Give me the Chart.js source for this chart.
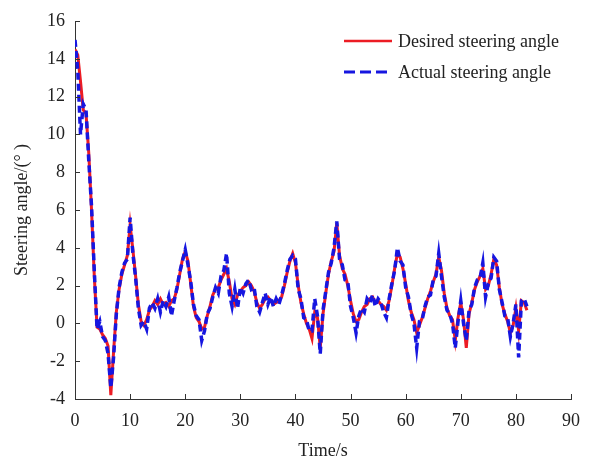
<!DOCTYPE html>
<html>
<head>
<meta charset="utf-8">
<script src="https://cdn.jsdelivr.net/npm/chart.js@4.4.1/dist/chart.umd.min.js"></script>
<style>
  html, body { margin: 0; padding: 0; background: #fff; }
</style>
</head>
<body>
<canvas id="chart" width="591" height="460"></canvas>
<script>
// samples every 0.5 s, 0 .. 82 s
const sampleStep = 0.5;

const desiredAngle = [
  14.5, 14.2, 12.8, 11.3, 11.1, 9.0, 6.0, 2.5, -0.2, -0.3,
  -0.6, -0.8, -1.2, -3.8, -1.5, 0.6, 1.8, 2.6, 3.1, 3.6,
  5.2, 3.9, 2.5, 1.0, 0.1, -0.1, 0.2, 0.7, 0.9, 1.2,
  1.0, 1.3, 1.0, 1.1, 0.9, 1.2, 1.3, 1.8, 2.6, 3.4,
  3.8, 3.3, 2.1, 0.9, 0.3, 0.1, -0.3, -0.2, 0.4, 0.9,
  1.5, 1.8, 1.9, 2.3, 2.6, 2.9, 2.2, 1.3, 1.0, 1.5,
  1.7, 1.9, 2.0, 2.2, 2.0, 1.7, 1.1, 0.8, 1.0, 1.3,
  1.4, 1.2, 1.0, 1.1, 1.2, 1.4, 2.0, 2.7, 3.3, 3.7,
  3.2, 2.0, 1.1, 0.5, 0.0, -0.3, -0.8, 0.6, 0.3, -1.3,
  0.5, 1.6, 2.6, 3.3, 3.8, 5.3, 3.6, 2.9, 2.6, 2.0,
  1.2, 0.5, 0.1, 0.2, 0.6, 0.9, 1.0, 1.3, 1.4, 1.1,
  1.2, 1.0, 0.9, 0.7, 1.2, 2.0, 2.9, 3.7, 3.5, 2.9,
  2.1, 1.2, 0.6, 0.2, -0.5, -0.1, 0.3, 0.8, 1.3, 1.7,
  2.2, 2.6, 3.5, 2.8, 1.6, 0.8, 0.4, 0.2, -0.9, 0.3,
  1.1, 0.2, -1.3, 0.5, 1.1, 1.8, 2.2, 2.5, 2.9, 1.8,
  2.0, 2.6, 3.4, 3.1, 1.9, 1.0, 0.5, 0.1, -0.5, -0.1,
  0.8, -0.4, 1.2, 1.1, 0.7
];

const actualAngle = [
  15.0, 13.4, 10.0, 11.6, 11.3, 8.6, 6.2, 2.8, -0.3, 0.1,
  -0.7, -0.9, -1.6, -3.4, -1.8, 0.5, 1.9, 2.7, 3.2, 3.4,
  5.6, 3.7, 2.4, 0.8, -0.1, 0.1, -0.3, 0.8, 1.1, 0.8,
  1.3, 0.6, 1.2, 0.9, 1.4, 0.4, 1.2, 1.9, 2.7, 3.3,
  3.9, 3.1, 2.2, 1.0, 0.4, 0.2, -0.9, -0.4, 0.5, 0.8,
  1.4, 1.9, 1.6, 2.5, 2.8, 3.7, 1.6, 0.9, 1.8, 0.8,
  1.9, 1.6, 2.1, 2.3, 1.8, 1.9, 0.9, 0.6, 1.1, 1.6,
  1.0, 1.4, 0.9, 1.3, 1.0, 1.5, 2.1, 2.8, 3.4, 3.6,
  3.4, 1.8, 1.3, 0.3, 0.2, -0.4, -0.4, 1.3, 0.4, -1.6,
  0.7, 1.7, 2.7, 3.2, 4.0, 5.4, 3.4, 3.1, 2.3, 2.2,
  0.9, 0.3, -0.5, 0.4, 0.8, 0.6, 1.3, 1.1, 1.5, 0.9,
  1.3, 1.1, 0.6, 0.3, 1.3, 2.1, 2.8, 4.0, 3.3, 3.1,
  1.9, 1.4, 0.5, 0.0, -1.3, 0.1, 0.2, 0.9, 1.4, 1.5,
  2.3, 2.5, 3.7, 2.5, 1.4, 0.7, 0.5, 0.0, -1.3, 0.1,
  1.2, 0.0, -0.9, 0.7, 1.0, 1.9, 2.3, 2.4, 3.2, 1.4,
  2.1, 2.4, 3.5, 3.3, 1.8, 1.1, 0.4, 0.3, -0.7, 0.0,
  1.0, -1.8, 1.2, 1.3, 0.9
];

const xTicks = [0, 10, 20, 30, 40, 50, 60, 70, 80, 90];
const yTicks = [-4, -2, 0, 2, 4, 6, 8, 10, 12, 14, 16];

const legendLabels = ['Desired steering angle', 'Actual steering angle'];

const serif = '"Liberation Serif", "DejaVu Serif", serif';
const redColor = '#ec1c24';
const blueColor = '#1616e0';

function toPoints(values) {
    return values.map((v, i) => ({ x: i * sampleStep, y: v }));
}

// inward ticks, x title and legend drawn on top
const decorPlugin = {
    id: 'decor',
    afterDraw(chart) {
        const ctx = chart.ctx;
        const xs = chart.scales.x;
        const ys = chart.scales.y;
        const area = chart.chartArea;

        ctx.save();
        ctx.strokeStyle = '#333';
        ctx.lineWidth = 1;
        ctx.beginPath();
        xTicks.forEach(t => {
            const px = Math.round(xs.getPixelForValue(t)) + 0.5;
            ctx.moveTo(px, area.bottom);
            ctx.lineTo(px, area.bottom - 5);
        });
        yTicks.forEach(t => {
            const py = Math.round(ys.getPixelForValue(t)) + 0.5;
            ctx.moveTo(area.left, py);
            ctx.lineTo(area.left + 5, py);
        });
        ctx.stroke();

        ctx.fillStyle = '#222';
        ctx.font = '18px ' + serif;
        ctx.textAlign = 'center';
        ctx.textBaseline = 'middle';
        ctx.fillText('Time/s', (area.left + area.right) / 2, 451);

        // legend
        ctx.textAlign = 'left';
        ctx.lineWidth = 2.5;
        ctx.strokeStyle = redColor;
        ctx.beginPath();
        ctx.moveTo(344, 41);
        ctx.lineTo(392, 41);
        ctx.stroke();
        ctx.fillText(legendLabels[0], 398, 42);

        ctx.lineWidth = 3;
        ctx.strokeStyle = blueColor;
        ctx.setLineDash([11, 5]);
        ctx.beginPath();
        ctx.moveTo(344, 72);
        ctx.lineTo(392, 72);
        ctx.stroke();
        ctx.setLineDash([]);
        ctx.fillText(legendLabels[1], 398, 73);
        ctx.restore();
    }
};

const ctx = document.getElementById('chart').getContext('2d');
const chart = new Chart(ctx, {
    type: 'line',
    data: {
        datasets: [
            {
                label: legendLabels[1],
                data: toPoints(actualAngle),
                borderColor: blueColor,
                borderWidth: 3.5,
                borderDash: [7, 4],
                pointRadius: 0,
                tension: 0
            },
            {
                label: legendLabels[0],
                data: toPoints(desiredAngle),
                borderColor: redColor,
                borderWidth: 3,
                pointRadius: 0,
                tension: 0
            }
        ]
    },
    options: {
        responsive: false,
        animation: false,
        layout: { padding: { top: 21, right: 12, left: 0, bottom: 0 } },
        plugins: {
            legend: { display: false },
            tooltip: { enabled: false }
        },
        scales: {
            x: {
                type: 'linear',
                min: 0,
                max: 90,
                afterBuildTicks: s => { s.ticks = xTicks.map(v => ({ value: v })); },
                afterFit: s => { s.height = 61; },
                grid: { display: false, drawTicks: false, tickLength: 0 },
                border: { display: true, color: '#333', width: 1 },
                ticks: {
                    padding: 11,
                    color: '#222',
                    font: { family: serif, size: 18 },
                    maxRotation: 0
                },
                title: { display: false }
            },
            y: {
                min: -4,
                max: 16,
                afterBuildTicks: s => { s.ticks = yTicks.map(v => ({ value: v })); },
                afterFit: s => { s.width = 75; },
                grid: { display: false, drawTicks: false, tickLength: 0 },
                border: { display: true, color: '#333', width: 1 },
                ticks: {
                    padding: 10,
                    color: '#222',
                    font: { family: serif, size: 18 }
                },
                title: {
                    display: true,
                    text: 'Steering angle/(° )',
                    color: '#222',
                    font: { family: serif, size: 18 },
                    padding: { top: 11, bottom: 0 }
                }
            }
        }
    },
    plugins: [decorPlugin]
});
</script>
</body>
</html>
